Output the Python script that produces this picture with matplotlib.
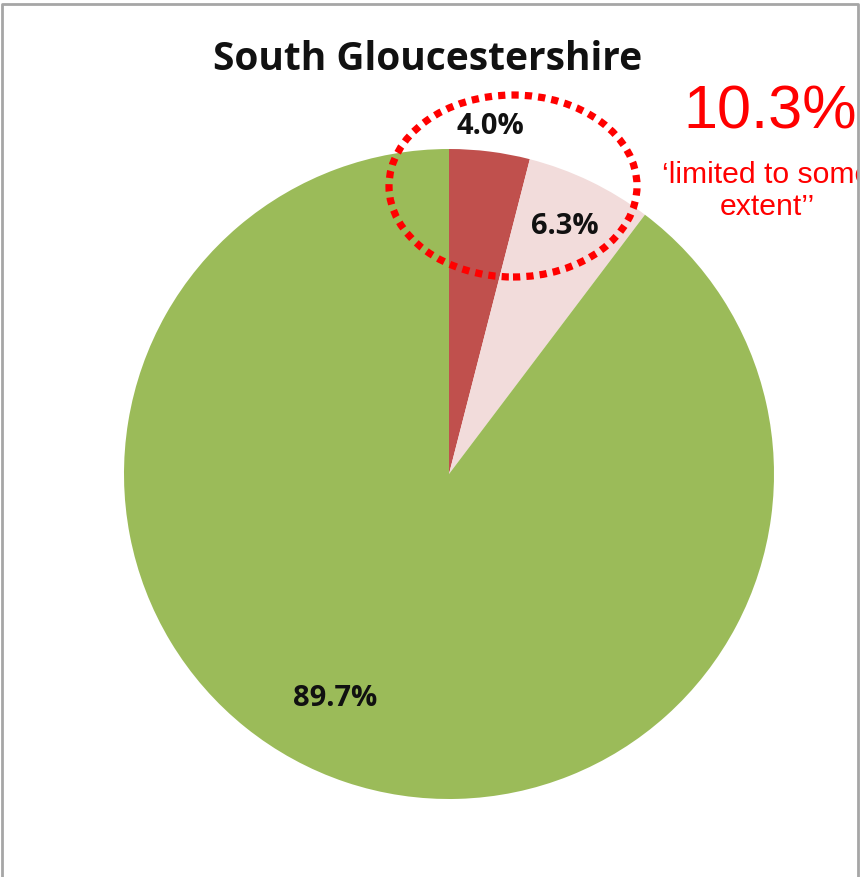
import matplotlib
matplotlib.use("Agg")
import matplotlib.pyplot as plt
from matplotlib.patches import Ellipse, Rectangle

# share of respondents, clockwise from 12 o'clock
categories = ["Limited a lot", "Limited a little", "Not limited"]
values = [4.0, 6.3, 89.7]
colors = ["#C0504D", "#F2DCDB", "#9BBB59"]
title = "South Gloucestershire"
callout_value = "10.3%"
callout_text = "\u2018limited to some\nextent\u2019\u2019"

W, H = 868, 877
fig = plt.figure(figsize=(W / 100, H / 100), dpi=100)
ax = fig.add_axes([0, 0, 1, 1])
ax.set_xlim(0, W)
ax.set_ylim(0, H)
ax.set_aspect("equal")
ax.axis("off")

wedges, _ = ax.pie(values, colors=colors, startangle=90, counterclock=False,
                   center=(449, H - 474), radius=325,
                   wedgeprops=dict(linewidth=0))
ax.set_xlim(0, W)
ax.set_ylim(0, H)

# percentage labels
label_pos = [(490, 127), (565, 227), (335, 698)]
for v, (x, y) in zip(values, label_pos):
    ax.text(x, H - y, f"{v:.1f}%", ha="center", va="center",
            fontsize=21, fontweight="bold", family="Open Sans", color="#111111")

ax.text(428, H - 60, title, ha="center", va="center", fontsize=28,
        fontweight="bold", family="Open Sans", color="#111111")

# dotted ring round the two small slices
ax.add_patch(Ellipse((513, H - 186), 248, 182, fill=False, edgecolor="#FF0000",
                     linewidth=5.2, linestyle=(0, (1.0, 0.85))))

ax.text(770, H - 113, callout_value, ha="center", va="center", fontsize=44,
        family="Liberation Sans", color="#FF0000")
ax.text(767, H - 191, callout_text, ha="center", va="center", fontsize=21.7,
        family="Liberation Sans", color="#FF0000", linespacing=1.22)

# mask anything past the right frame edge, then draw the frame
ax.add_patch(Rectangle((859, 0), 20, H, facecolor="white", edgecolor="none", zorder=5))
ax.plot([2, 2, 858, 858], [0, H - 4, H - 4, 0], color="#A6A6A6", linewidth=2, zorder=6)

fig.savefig("out.png", dpi=100)
